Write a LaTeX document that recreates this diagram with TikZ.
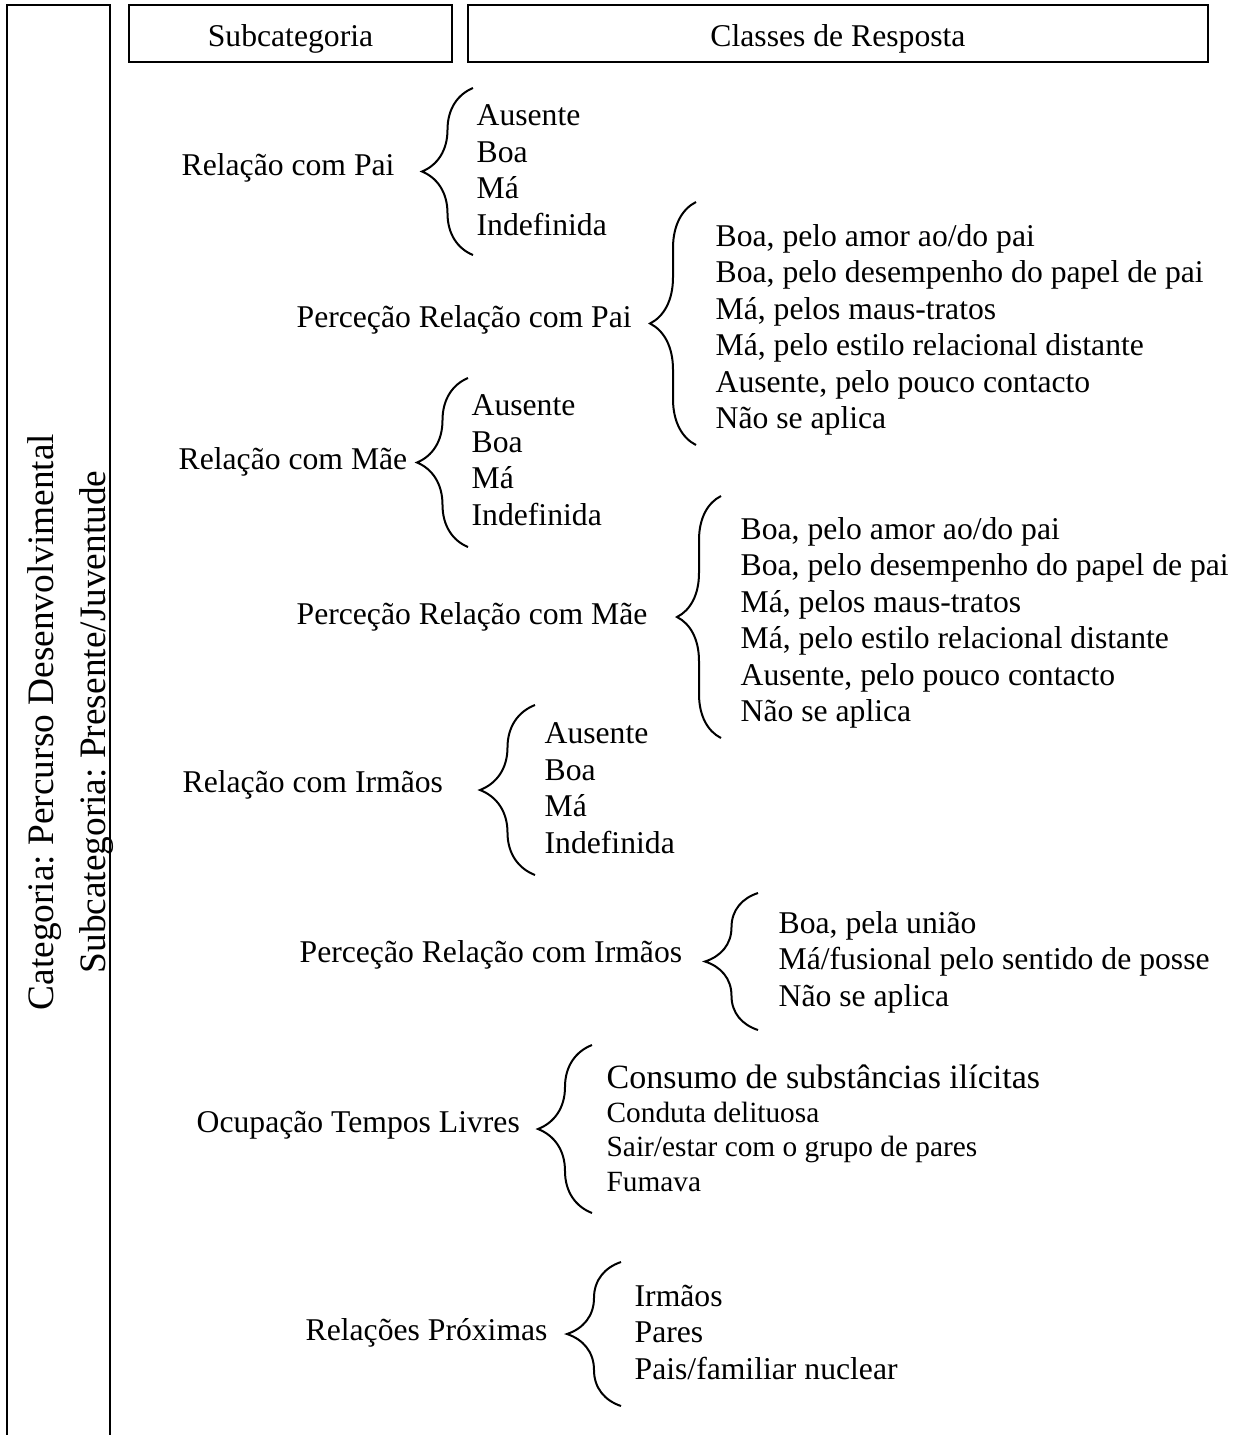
\documentclass[tikz,border=0pt]{standalone}
\usepackage{fontspec}
\setmainfont{Liberation Serif}
\frenchspacing
\usetikzlibrary{decorations.pathreplacing}
\tikzset{
  lbl/.style={anchor=west, inner sep=0pt},
  lista/.style={anchor=west, inner sep=0pt, align=left},
  cabec/.style={draw, line width=0.6pt, inner sep=0pt, minimum height=17.1pt, text height=7.5pt, text depth=0pt},
  chaveta/.style={decorate, line width=0.6pt, decoration={brace, amplitude=#1}},
}
\begin{document}
\begin{tikzpicture}[x=0.3pt, y=-0.3pt, font=\fontsize{9.5}{10.95}\selectfont]
  \useasboundingbox (0,0) rectangle (1248,1435);
  % Draw the column of the category (open at the bottom).
  \draw[line width=0.6pt] (7,1435) -- (7,5) -- (110,5) -- (110,1435);
  \node (cat) at (45,722) [rotate=90, inner sep=0pt, font=\fontsize{11.2}{13}\selectfont] {Categoria: Percurso Desenvolvimental};
  \node (subcat) at (97,722) [rotate=90, inner sep=0pt, font=\fontsize{11.2}{13}\selectfont] {Subcategoria: Presente/Juventude};
  % Draw the headers.
  \node (hsub) at (290.5,33.5) [cabec, minimum width=96.9pt] {Subcategoria};
  \node (hcla) at (838,33.5) [cabec, minimum width=222pt] {Classes de Resposta};
  % Relacao com Pai.
  \node (rpai) at (181,168) [lbl] {Relação com Pai};
  \coordinate (rpaiA) at (473,88);
  \coordinate (rpaiB) at (473,255);
  \draw[chaveta=15.3pt] (rpaiB) -- (rpaiA);
  \node (rpaiL) at (476,170) [lista] {Ausente\\Boa\\Má\\Indefinida};
  % Percecao Relacao com Pai.
  \node (ppai) at (296,320) [lbl] {Perceção Relação com Pai};
  \coordinate (ppaiA) at (696,202);
  \coordinate (ppaiB) at (696,445);
  \draw[chaveta=13.8pt] (ppaiB) -- (ppaiA);
  \node (ppaiL) at (715,330) [lista] {Boa, pelo amor ao/do pai\\Boa, pelo desempenho do papel de pai\\Má, pelos maus-tratos\\Má, pelo estilo relacional distante\\Ausente, pelo pouco contacto\\Não se aplica};
  % Relacao com Mae.
  \node (rmae) at (178,462) [lbl] {Relação com Mãe};
  \coordinate (rmaeA) at (468,378);
  \coordinate (rmaeB) at (468,547);
  \draw[chaveta=15.3pt] (rmaeB) -- (rmaeA);
  \node (rmaeL) at (471,460) [lista] {Ausente\\Boa\\Má\\Indefinida};
  % Percecao Relacao com Mae.
  \node (pmae) at (296,617) [lbl] {Perceção Relação com Mãe};
  \coordinate (pmaeA) at (721,496);
  \coordinate (pmaeB) at (721,738);
  \draw[chaveta=13.2pt] (pmaeB) -- (pmaeA);
  \node (pmaeL) at (740,623) [lista] {Boa, pelo amor ao/do pai\\Boa, pelo desempenho do papel de pai\\Má, pelos maus-tratos\\Má, pelo estilo relacional distante\\Ausente, pelo pouco contacto\\Não se aplica};
  % Relacao com Irmaos.
  \node (rirm) at (182,785) [lbl] {Relação com Irmãos};
  \coordinate (rirmA) at (535,705);
  \coordinate (rirmB) at (535,875);
  \draw[chaveta=16.5pt] (rirmB) -- (rirmA);
  \node (rirmL) at (544,788) [lista] {Ausente\\Boa\\Má\\Indefinida};
  % Percecao Relacao com Irmaos.
  \node (pirm) at (299,955) [lbl] {Perceção Relação com Irmãos};
  \coordinate (pirmA) at (758,893);
  \coordinate (pirmB) at (758,1030);
  \draw[chaveta=15.9pt] (pirmB) -- (pirmA);
  \node (pirmL) at (778,962) [lista] {Boa, pela união\\Má/fusional pelo sentido de posse\\Não se aplica};
  % Ocupacao Tempos Livres.
  \node (otl) at (196,1125) [lbl] {Ocupação Tempos Livres};
  \coordinate (otlA) at (592,1045);
  \coordinate (otlB) at (592,1213);
  \draw[chaveta=16.2pt] (otlB) -- (otlA);
  \node (otlL) at (606,1128) [lista, font=\fontsize{8.8}{10.3}\selectfont] {{\fontsize{10.2}{10.3}\selectfont Consumo de substâncias ilícitas}\\Conduta delituosa\\Sair/estar com o grupo de pares\\Fumava};
  % Relacoes Proximas.
  \node (rpro) at (305,1333) [lbl] {Relações Próximas};
  \coordinate (rproA) at (621,1262);
  \coordinate (rproB) at (621,1406);
  \draw[chaveta=16.2pt] (rproB) -- (rproA);
  \node (rproL) at (634,1332) [lista] {Irmãos\\Pares\\Pais/familiar nuclear};
\end{tikzpicture}
\end{document}
